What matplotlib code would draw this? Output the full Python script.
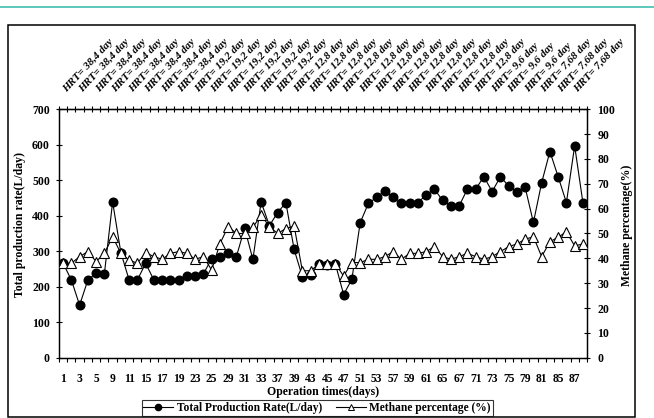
import matplotlib
matplotlib.use('Agg')
import matplotlib.pyplot as plt
from matplotlib.lines import Line2D
from matplotlib.patches import Rectangle
import numpy as np

# === DADOS ===
# rótulos visíveis do eixo x (um a cada duas amostras)
dias_rotulo = [1, 3, 5, 9, 11, 15, 17, 19, 23, 25, 29, 31, 33, 37, 39, 43,
               45, 47, 51, 53, 57, 59, 61, 65, 67, 71, 73, 75, 79, 81, 85, 87]

# rótulos do eixo superior (HRT)
hrt_rotulo = (['HRT= 38,4 day'] * 8 + ['HRT= 19,2 day'] * 6 +
              ['HRT= 12,8 day'] * 12 + ['HRT= 9,6 day'] * 3 +
              ['HRT= 7,68 day'] * 3)

# taxa de produção total (L/day)
producao = [266, 219, 148, 219, 238, 236, 439, 296, 219, 219, 266, 219, 219, 219, 219, 231,
            231, 236, 279, 283, 294, 285, 365, 277, 439, 372, 409, 437, 305, 228, 233, 264,
            262, 264, 178, 221, 380, 435, 452, 470, 452, 437, 437, 437, 459, 475, 443, 428,
            428, 475, 475, 510, 468, 510, 484, 468, 480, 381, 493, 581, 510, 437, 597, 437]

# percentual de metano (%)
metano = [38.0, 38.0, 40.7, 42.7, 38.7, 42.0, 48.7, 42.0, 39.3, 38.0, 42.3, 40.7, 39.6, 42.0, 42.7, 42.0,
          39.6, 40.7, 35.3, 45.8, 52.8, 50.0, 50.0, 52.5, 57.4, 52.8, 50.0, 52.0, 53.0, 35.0, 35.0, 37.7,
          37.7, 37.7, 32.9, 38.3, 38.3, 39.6, 39.6, 40.7, 42.7, 39.6, 42.0, 42.0, 42.7, 44.7, 40.7, 39.6,
          40.7, 42.0, 40.7, 39.6, 40.7, 42.7, 44.7, 45.8, 47.7, 48.7, 40.7, 46.7, 48.5, 50.7, 45.0, 45.8]

# === ESTILO ===
plt.rcParams['font.family'] = ['Liberation Serif', 'DejaVu Serif']
plt.rcParams['font.weight'] = 'bold'

n = len(producao)
x = np.arange(n)

fig = plt.figure(figsize=(6.54, 4.18), dpi=100)
ax = fig.add_axes([0.0902, 0.1443, 0.8074, 0.5942])

# série 1: produção (eixo esquerdo)
ax.plot(x, producao, color='black', lw=0.8, marker='o', ms=6.2,
        mfc='black', mec='black', zorder=3)
ax.set_xlim(-0.5, n - 0.5)
ax.set_ylim(0, 700)
ax.set_yticks(range(0, 701, 100))

# eixo x inferior: rótulos a cada 2 categorias, traços entre categorias
ax.set_xticks(np.arange(0, n, 2))
ax.set_xticklabels([str(d) for d in dias_rotulo])
ax.set_xticks(np.arange(-0.5, n, 1), minor=True)
ax.tick_params(axis='x', which='major', length=0, pad=11, labelsize=8.3)
ax.tick_params(axis='x', which='minor', direction='out', length=3, width=0.8)
ax.tick_params(axis='y', direction='inout', length=5, width=0.8, pad=4, labelsize=8.5)

# série 2: metano (eixo direito)
ax2 = ax.twinx()
ax2.plot(x, metano, color='black', lw=0.8, marker='^', ms=7,
         mfc='white', mec='black', mew=0.8, zorder=3)
ax2.set_ylim(0, 100)
ax2.set_yticks(range(0, 101, 10))
ax2.tick_params(axis='y', direction='inout', length=5, width=0.8, pad=5, labelsize=8.5)
ax2.patch.set_visible(False)

# eixo x superior: traços cruzando a linha
sec = ax.secondary_xaxis('top')
sec.set_xticks(np.arange(-0.5, n, 1))
sec.set_xticklabels([])
sec.tick_params(direction='inout', length=5, width=0.8)

for a in (ax, ax2):
    for s in a.spines.values():
        s.set_linewidth(0.9)

# rótulos HRT inclinados
for k, txt in enumerate(hrt_rotulo):
    ax.annotate(txt, xy=(2 * k, 1), xycoords=('data', 'axes fraction'),
                xytext=(3.5, 11), textcoords='offset points',
                rotation=47, rotation_mode='anchor', ha='left', va='bottom',
                fontsize=7.8, fontstyle='italic', fontweight='bold')

# títulos dos eixos
fig.text(0.494, 0.063, 'Operation times(days)', ha='center', va='center', fontsize=8.5)
fig.text(0.030, 0.462, 'Total production rate(L/day)', rotation=90,
         ha='center', va='center', fontsize=8.5)
fig.text(0.958, 0.462, 'Methane percentage(%)', rotation=90,
         ha='center', va='center', fontsize=8.5)

# legenda
h1 = Line2D([], [], color='black', lw=0.8, marker='o', ms=4.5, mfc='black')
h2 = Line2D([], [], color='black', lw=0.8, marker='^', ms=5, mfc='white', mew=0.7)
leg = fig.legend([h1, h2], ['Total Production Rate(L/day)', 'Methane percentage (%)'],
                 loc='lower center', bbox_to_anchor=(0.485, -0.008), ncol=2,
                 fontsize=8.3, frameon=True, fancybox=False, edgecolor='black',
                 handlelength=2.6, borderpad=0.15, columnspacing=1.2, handletextpad=0.3)
leg.get_frame().set_linewidth(0.8)

# moldura externa e linha superior
fig.patches.append(Rectangle((0.0122, 0.002), 0.9587, 0.938, transform=fig.transFigure,
                             fill=False, edgecolor='black', lw=1.1))
fig.lines.append(Line2D([0, 1], [0.983, 0.983], transform=fig.transFigure,
                        color='#3fbfae', lw=1.2))

fig.savefig('out.png', dpi=100)
